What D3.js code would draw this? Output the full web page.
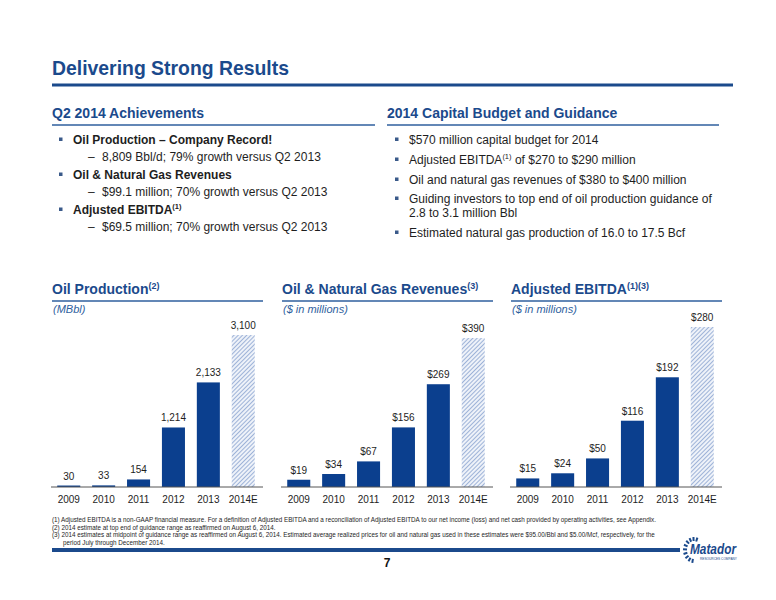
<!DOCTYPE html>
<html>
<head>
<meta charset="utf-8">
<script src="https://cdn.jsdelivr.net/npm/d3@7"></script>
<style>
  body { margin: 0; background: #fff; }
  svg { display: block; font-family: "Liberation Sans", Arial, sans-serif; }
</style>
</head>
<body>
<svg id="slide" width="776" height="600"></svg>
<script>

// Chart values
var years = ["2009", "2010", "2011", "2012", "2013", "2014E"];
var oilProduction = [30, 33, 154, 1214, 2133, 3100];
var gasRevenues = [19, 34, 67, 156, 269, 390];
var adjustedEbitda = [15, 24, 50, 116, 192, 280];

// Text blocks
var leftBullets = [
    {text: "Oil Production – Company Record!", sup: "", level: 0},
    {text: "8,809 Bbl/d; 79% growth versus Q2 2013", sup: "", level: 1},
    {text: "Oil & Natural Gas Revenues", sup: "", level: 0},
    {text: "$99.1 million; 70% growth versus Q2 2013", sup: "", level: 1},
    {text: "Adjusted EBITDA", sup: "(1)", level: 0},
    {text: "$69.5 million; 70% growth versus Q2 2013", sup: "", level: 1}
];
var rightBullets = [
    ["$570 million capital budget for 2014"],
    ["Adjusted EBITDA|(1)| of $270 to $290 million"],
    ["Oil and natural gas revenues of $380 to $400 million"],
    ["Guiding investors to top end of oil production guidance of", "2.8 to 3.1 million Bbl"],
    ["Estimated natural gas production of 16.0 to 17.5 Bcf"]
];
var footnotes = [
    "(1) Adjusted EBITDA is a non-GAAP financial measure. For a definition of Adjusted EBITDA and a reconciliation of Adjusted EBITDA to our net income (loss) and net cash provided by operating activities, see Appendix.",
    "(2) 2014 estimate at top end of guidance range as reaffirmed on August 6, 2014.",
    "(3) 2014 estimates at midpoint of guidance range as reaffirmed on August 6, 2014. Estimated average realized prices for oil and natural gas used in these estimates were $95.00/Bbl and $5.00/Mcf, respectively, for the",
    "period July through December 2014."
];

var blue = "#1b4a8c";
var barBlue = "#0b3f8e";
var textColor = "#1e1e1e";

var svg = d3.select("#slide");

// Hatch pattern for estimate bars
var defs = svg.append("defs");
var hatch = defs.append("pattern")
    .attr("id", "hatch")
    .attr("patternUnits", "userSpaceOnUse")
    .attr("width", 3)
    .attr("height", 3)
    .attr("patternTransform", "rotate(45)");
hatch.append("rect").attr("width", 3).attr("height", 3).attr("fill", "#eef2f9");
hatch.append("line")
    .attr("x1", 0).attr("y1", 0).attr("x2", 0).attr("y2", 3)
    .attr("stroke", "#6888c2")
    .attr("stroke-width", 1.2);

/*****************************/
// Title
/*****************************/

svg.append("text")
    .attr("x", 52)
    .attr("y", 75)
    .attr("font-size", 21)
    .attr("font-weight", "bold")
    .attr("fill", blue)
    .attr("textLength", 237)
    .attr("lengthAdjust", "spacingAndGlyphs")
    .text("Delivering Strong Results");

svg.append("rect")
    .attr("x", 52).attr("y", 83.5)
    .attr("width", 681).attr("height", 3)
    .attr("fill", blue);

/*****************************/
// Section headers
/*****************************/

function sectionHeader(x, y, x2, label, sup) {
    var t = svg.append("text")
        .attr("x", x)
        .attr("y", y)
        .attr("font-size", 14)
        .attr("font-weight", "bold")
        .attr("fill", blue)
        .text(label);
    if (sup) {
        t.append("tspan")
            .attr("font-size", 9)
            .attr("dy", -5)
            .text(sup);
    }
    svg.append("line")
        .attr("x1", x).attr("x2", x2)
        .attr("y1", y + 7).attr("y2", y + 7)
        .attr("stroke", "#2f5f9e")
        .attr("stroke-width", 1.5);
}

sectionHeader(52, 118, 375, "Q2 2014 Achievements");
sectionHeader(387, 118, 719, "2014 Capital Budget and Guidance");

// Left bullet list
var leftY = [144, 161, 179, 196, 214, 231];
leftBullets.forEach(function(b, i) {
    var y = leftY[i];
    if (b.level == 0) {
        svg.append("rect")
            .attr("x", 59).attr("y", y - 6.5)
            .attr("width", 3.5).attr("height", 3.5)
            .attr("fill", "#3a5a8a");
        var t = svg.append("text")
            .attr("x", 73).attr("y", y)
            .attr("font-size", 12)
            .attr("font-weight", "bold")
            .attr("fill", textColor)
            .text(b.text);
        if (b.sup) {
            t.append("tspan").attr("font-size", 7.5).attr("dy", -5).text(b.sup);
        }
    } else {
        svg.append("text")
            .attr("x", 88).attr("y", y)
            .attr("font-size", 12)
            .attr("fill", textColor)
            .text("–");
        svg.append("text")
            .attr("x", 102).attr("y", y)
            .attr("font-size", 12)
            .attr("fill", textColor)
            .text(b.text);
    }
});

// Right bullet list
var rightY = [144, 164, 184, 203, 237];
rightBullets.forEach(function(lines, i) {
    var y = rightY[i];
    svg.append("rect")
        .attr("x", 395).attr("y", y - 6.5)
        .attr("width", 3.5).attr("height", 3.5)
        .attr("fill", "#3a5a8a");
    lines.forEach(function(line, j) {
        var parts = line.split("|");
        var t = svg.append("text")
            .attr("x", 409).attr("y", y + j * 14)
            .attr("font-size", 12)
            .attr("fill", textColor)
            .text(parts[0]);
        if (parts.length > 1) {
            t.append("tspan").attr("font-size", 7.5).attr("dy", -5).text(parts[1]);
            t.append("tspan").attr("dy", 5).text(parts[2]);
        }
    });
});

/*****************************/
// Bar charts
/*****************************/

function drawBarChart(opts) {

    var g = svg.append("g");

    sectionHeader(opts.x0, 294, opts.x1 + 3, opts.title, opts.sup);

    g.append("text")
        .attr("x", opts.x0 + 1)
        .attr("y", 313)
        .attr("font-size", 11)
        .attr("font-style", "italic")
        .attr("fill", "#2f5f9e")
        .text(opts.unit);

    var xChart = d3.scaleBand()
        .domain(years)
        .range([opts.x0, opts.x1])
        .paddingInner(0.34)
        .paddingOuter(0.15);

    var yChart = d3.scaleLinear()
        .domain([0, d3.max(opts.data)])
        .range([487, opts.top]);

    g.selectAll(".bar")
        .data(opts.data)
        .enter()
        .append("rect")
        .attr("class", "bar")
        .attr("x", function(d, i) { return xChart(years[i]); })
        .attr("y", function(d) { return yChart(d); })
        .attr("width", xChart.bandwidth())
        .attr("height", function(d) { return 487 - yChart(d); })
        .attr("fill", function(d, i) { return years[i].indexOf("E") > -1 ? "url(#hatch)" : barBlue; });

    g.selectAll(".val")
        .data(opts.data)
        .enter()
        .append("text")
        .attr("class", "val")
        .attr("x", function(d, i) { return xChart(years[i]) + xChart.bandwidth() / 2; })
        .attr("y", function(d) { return yChart(d) - 6; })
        .attr("text-anchor", "middle")
        .attr("font-size", 10)
        .attr("fill", textColor)
        .text(opts.format);

    // x axis
    var axis = g.append("g")
        .attr("transform", "translate(0,487)")
        .call(d3.axisBottom(xChart).tickSize(0).tickPadding(9));
    axis.select(".domain")
        .attr("d", "M" + (opts.x0 - 1) + ",0H" + (opts.x1 + 3))
        .attr("stroke", "#555")
        .attr("stroke-width", 1);
    axis.selectAll("text")
        .attr("font-size", 10)
        .attr("font-family", "Liberation Sans, Arial, sans-serif")
        .attr("fill", textColor);
}

drawBarChart({
    x0: 52, x1: 260, top: 335,
    title: "Oil Production", sup: "(2)", unit: "(MBbl)",
    data: oilProduction,
    format: d3.format(",")
});

drawBarChart({
    x0: 282, x1: 490, top: 338,
    title: "Oil & Natural Gas Revenues", sup: "(3)", unit: "($ in millions)",
    data: gasRevenues,
    format: function(d) { return "$" + d; }
});

drawBarChart({
    x0: 511, x1: 719, top: 327,
    title: "Adjusted EBITDA", sup: "(1)(3)", unit: "($ in millions)",
    data: adjustedEbitda,
    format: function(d) { return "$" + d; }
});

/*****************************/
// Footnotes and footer
/*****************************/

var footY = [522, 529.5, 537, 544.5];
footnotes.forEach(function(f, i) {
    svg.append("text")
        .attr("x", i == 3 ? 63 : 52)
        .attr("y", footY[i])
        .attr("font-size", 6.3)
        .attr("fill", textColor)
        .text(f);
});

svg.append("rect")
    .attr("x", 52).attr("y", 548)
    .attr("width", 628).attr("height", 4)
    .attr("fill", blue);

// Matador logo (gear rays + wordmark)
var logo = svg.append("g").attr("transform", "translate(694,550)");
d3.range(10).forEach(function(i) {
    var a = Math.PI * 0.55 + i * (Math.PI * 1.05 / 9);
    logo.append("line")
        .attr("x1", Math.cos(a) * 7).attr("y1", Math.sin(a) * 9)
        .attr("x2", Math.cos(a) * 11).attr("y2", Math.sin(a) * 13)
        .attr("stroke", blue)
        .attr("stroke-width", 2);
});
logo.append("text")
    .attr("x", -4).attr("y", 4)
    .attr("font-size", 14)
    .attr("font-weight", "bold")
    .attr("font-style", "italic")
    .attr("fill", blue)
    .attr("textLength", 46)
    .attr("lengthAdjust", "spacingAndGlyphs")
    .text("Matador");
logo.append("text")
    .attr("x", 6).attr("y", 10)
    .attr("font-size", 3.2)
    .attr("fill", blue)
    .text("RESOURCES   COMPANY");

svg.append("text")
    .attr("x", 387)
    .attr("y", 567)
    .attr("text-anchor", "middle")
    .attr("font-size", 12)
    .attr("font-weight", "bold")
    .attr("fill", "#111")
    .text("7");

</script>
</body>
</html>
